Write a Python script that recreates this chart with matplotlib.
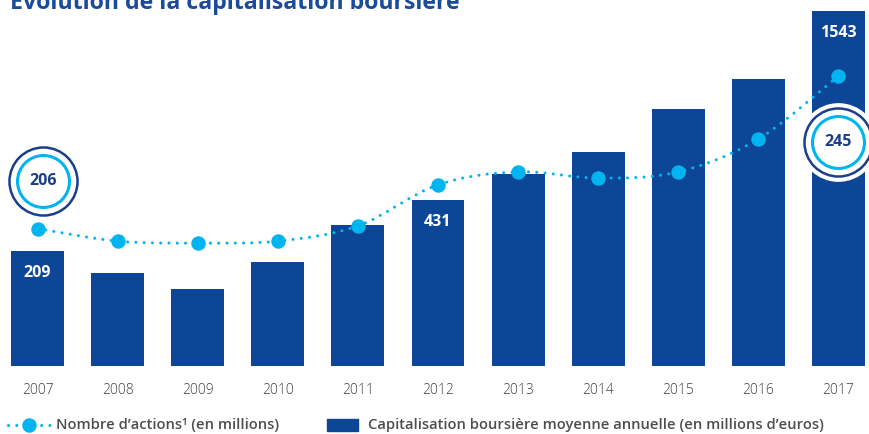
import numpy as np
import matplotlib.pyplot as plt
from matplotlib.path import Path
from matplotlib.patches import PathPatch, Rectangle
from matplotlib.lines import Line2D
from matplotlib.transforms import offset_copy

plt.rcParams['font.family'] = ['Open Sans', 'DejaVu Sans']

# donnees
annees = ['2007', '2008', '2009', '2010', '2011', '2012', '2013', '2014', '2015', '2016', '2017']
capi = [209, 169, 140, 189, 322, 431, 584, 713, 966, 1143, 1543]
capi_etiq = {0: '209', 5: '431', 10: '1543'}
actions = [206, 202.8, 202.3, 202.8, 206.7, 217.2, 220.5, 218.9, 220.5, 228.9, 245]
actions_etiq = {0: '206', 10: '245'}

BLEU = '#0d4697'
CYAN = '#00b5ef'
BLEU_CERCLE = '#1b3e8c'
GRIS = '#404040'

W, H = 869, 434

# echelle non lineaire du graphique original (par morceaux)
ech_v = [0, 209, 431, 1543, 2000]
ech_h = [0, 115, 166, 355, 432.7]
def fwd(v):
    return np.interp(v, ech_v, ech_h)
def inv(h):
    return np.interp(h, ech_h, ech_v)

fig = plt.figure(figsize=(W/100, H/100), dpi=100)
fig.patch.set_facecolor('white')
ax = fig.add_axes([5.5/W, (H-366)/H, 865/W, 366/H])
ax.set_yscale('function', functions=(fwd, inv))
x = np.arange(len(annees))
ax.bar(x, capi, width=0.66, color=BLEU, zorder=2)
ax.set_xlim(-0.4, 10.4)
ax.set_ylim(0, inv(366))
for i, t in capi_etiq.items():
    ax.annotate(t, (x[i], capi[i]), xytext=(0, -22), textcoords='offset pixels',
                ha='center', va='center', color='white', fontsize=11.5, fontweight='bold')
ax.set_xticks(x)
ax.set_xticklabels(annees, color=GRIS, fontsize=10, fontweight='light')
ax.tick_params(axis='x', length=0, pad=12)
ax.set_yticks([])
for s in ax.spines.values():
    s.set_visible(False)

ax2 = ax.twinx()
ax2.set_ylim(170.9, 264.4)
ax2.set_yticks([])
for s in ax2.spines.values():
    s.set_visible(False)

# courbe lissee (catmull-rom -> bezier)
pts = np.column_stack([x, actions])
verts = [pts[0]]
codes = [Path.MOVETO]
n = len(pts)
for i in range(n - 1):
    p0 = pts[max(i - 1, 0)]
    p1 = pts[i]
    p2 = pts[i + 1]
    p3 = pts[min(i + 2, n - 1)]
    c1 = p1 + (p2 - p0) / 6
    c2 = p2 - (p3 - p1) / 6
    verts += [c1, c2, p2]
    codes += [Path.CURVE4] * 3
courbe = PathPatch(Path(verts, codes), fill=False, edgecolor=CYAN, lw=2.2,
                   linestyle=(0, (0.01, 2.7)), capstyle='round', zorder=3)
ax2.add_patch(courbe)
ax2.plot(x, actions, 'o', color=CYAN, markersize=9.4, zorder=4)

decal = {0: (5.5, 48), 10: (0, -66)}
for i, t in actions_etiq.items():
    dx, dy = decal[i]
    tr = offset_copy(ax2.transData, fig=fig, x=dx, y=dy, units='dots')
    if i == 10:
        ax2.scatter([x[i]], [actions[i]], s=3100, color='white', transform=tr, zorder=5)
    ax2.scatter([x[i]], [actions[i]], s=2401, facecolor='white', edgecolor=BLEU_CERCLE,
                linewidth=1.8, transform=tr, zorder=6)
    ax2.scatter([x[i]], [actions[i]], s=1400, facecolor='white', edgecolor=CYAN,
                linewidth=2.2, transform=tr, zorder=7)
    ax2.text(x[i], actions[i], t, transform=tr, ha='center', va='center',
             color=BLEU_CERCLE, fontsize=11.5, fontweight='bold', zorder=8)

# titre (coupe en haut comme dans l'original)
fig.text(10/W, 1 - 9/H, 'Évolution de la capitalisation boursière', fontsize=16.7,
         fontweight='bold', color='#1a4b9c', va='baseline')

# legende
yl = 1 - 425/H
fig.add_artist(Line2D([8/W, 53/W], [yl, yl], color=CYAN, lw=2.2,
                      linestyle=(0, (0.01, 2.7)), dash_capstyle='round'))
fig.add_artist(Line2D([29/W], [yl], marker='o', color=CYAN, markersize=9.4))
fig.text(56/W, yl, 'Nombre d\u2019actions\u00b9 (en millions)', fontsize=10.6,
         fontweight='semibold', color='#4d4d4d', va='center')
fig.add_artist(Rectangle((327/W, 1 - 431/H), 31/W, 12/H, color=BLEU,
                         transform=fig.transFigure))
fig.text(368/W, yl, 'Capitalisation boursière moyenne annuelle (en millions d\u2019euros)',
         fontsize=10.6, fontweight='semibold', color='#4d4d4d', va='center')

fig.savefig('out.png', dpi=100)
